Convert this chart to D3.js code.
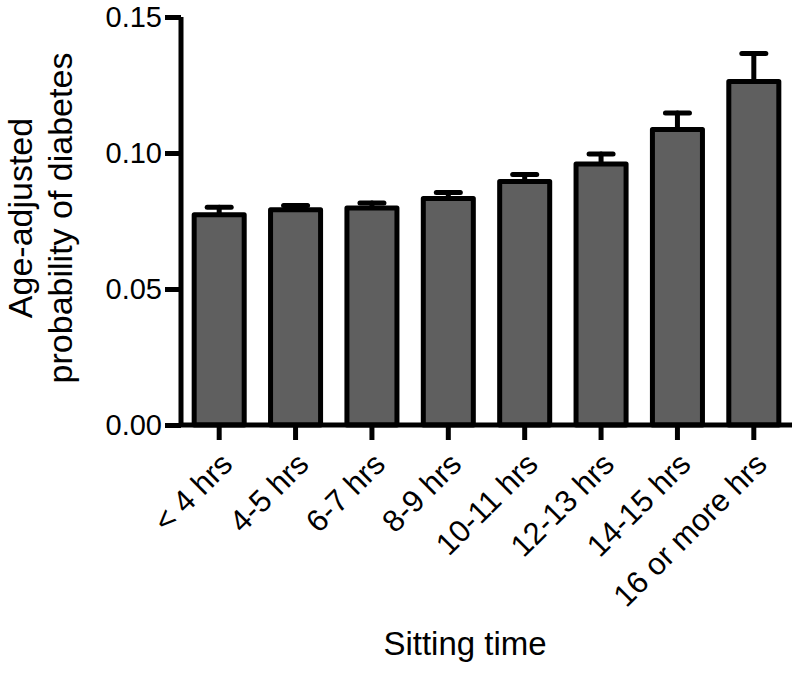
<!DOCTYPE html>
<html>
<head>
<meta charset="utf-8">
<script src="https://cdn.jsdelivr.net/npm/d3@7"></script>
<style>
  body { margin: 0; background: #fff; }
  svg { display: block; font-family: "Liberation Sans", Arial, sans-serif; }
</style>
</head>
<body>
<svg id="chart" width="800" height="677"></svg>
<script>
const categories = ["< 4 hrs", "4-5 hrs", "6-7 hrs", "8-9 hrs", "10-11 hrs", "12-13 hrs", "14-15 hrs", "16 or more hrs"];
const means = [0.0773, 0.0791, 0.0798, 0.0833, 0.0895, 0.0960, 0.1086, 0.1263];
const upper = [0.0801, 0.0807, 0.0816, 0.0855, 0.0921, 0.0996, 0.1147, 0.1366];
const yTicks = [0.00, 0.05, 0.10, 0.15];

const width = 800, height = 677;
const margin = { left: 181, right: 8, top: 17, bottom: 252 };
const lw = 5;

const svg = d3.select("#chart");

const x = d3.scaleBand()
    .domain(categories)
    .range([margin.left, width - margin.right])
    .paddingInner(0.345)
    .paddingOuter(0.1725);

const y = d3.scaleLinear()
    .domain([0, 0.15])
    .range([height - margin.bottom, margin.top]);

const data = categories.map((c, i) => ({ cat: c, mean: means[i], hi: upper[i] }));

// error bars (upper only)
const err = svg.append("g")
    .attr("stroke", "#000")
    .attr("stroke-width", lw)
    .attr("stroke-linecap", "round");

err.selectAll("line.stem")
    .data(data)
    .enter()
    .append("line")
    .attr("x1", d => x(d.cat) + x.bandwidth() / 2)
    .attr("x2", d => x(d.cat) + x.bandwidth() / 2)
    .attr("y1", d => y(d.mean))
    .attr("y2", d => y(d.hi));

err.selectAll("line.cap")
    .data(data)
    .enter()
    .append("line")
    .attr("x1", d => x(d.cat) + x.bandwidth() / 2 - 12)
    .attr("x2", d => x(d.cat) + x.bandwidth() / 2 + 12)
    .attr("y1", d => y(d.hi))
    .attr("y2", d => y(d.hi));

// bars
svg.append("g")
    .selectAll("rect")
    .data(data)
    .enter()
    .append("rect")
    .attr("x", d => x(d.cat))
    .attr("y", d => y(d.mean))
    .attr("width", x.bandwidth())
    .attr("height", d => y(0) - y(d.mean))
    .attr("fill", "#5f5f5f")
    .attr("stroke", "#000")
    .attr("stroke-width", lw)
    .attr("stroke-linejoin", "round");

// y axis
const yAxis = svg.append("g")
    .attr("transform", `translate(${margin.left},0)`)
    .call(d3.axisLeft(y).tickValues(yTicks).tickFormat(d3.format(".2f")).tickSize(16).tickPadding(3));
yAxis.select(".domain")
    .style("stroke-width", lw + "px")
    .attr("d", `M0,${y(0.15)}V${y(0)}`);
yAxis.selectAll(".tick line").style("stroke-width", lw + "px");
yAxis.selectAll(".tick text")
    .attr("font-size", 29)
    .attr("font-family", "Liberation Sans, Arial, sans-serif")
    .attr("fill", "#000");

// x axis
const xAxis = svg.append("g")
    .attr("transform", `translate(0,${y(0)})`)
    .call(d3.axisBottom(x).tickSize(15).tickSizeOuter(0));
xAxis.select(".domain")
    .style("stroke-width", lw + "px")
    .attr("d", `M${margin.left - 2},0H${width - margin.right}`);
xAxis.selectAll(".tick line").style("stroke-width", lw + "px");
xAxis.selectAll(".tick text")
    .attr("font-size", 31)
    .attr("font-family", "Liberation Sans, Arial, sans-serif")
    .attr("fill", "#000")
    .attr("text-anchor", "end")
    .attr("x", 0)
    .attr("y", 0)
    .attr("dy", 0)
    .attr("transform", "translate(15,41) rotate(-45)");

// axis titles
svg.append("text")
    .attr("text-anchor", "middle")
    .attr("font-size", 33)
    .attr("transform", "translate(465,655)")
    .text("Sitting time");

const yTitle = svg.append("text")
    .attr("text-anchor", "middle")
    .attr("font-size", 34)
    .attr("transform", "translate(0,218) rotate(-90)");
yTitle.append("tspan").attr("x", 0).attr("y", 32).text("Age-adjusted");
yTitle.append("tspan").attr("x", 0).attr("y", 72).text("probability of diabetes");
</script>
</body>
</html>
